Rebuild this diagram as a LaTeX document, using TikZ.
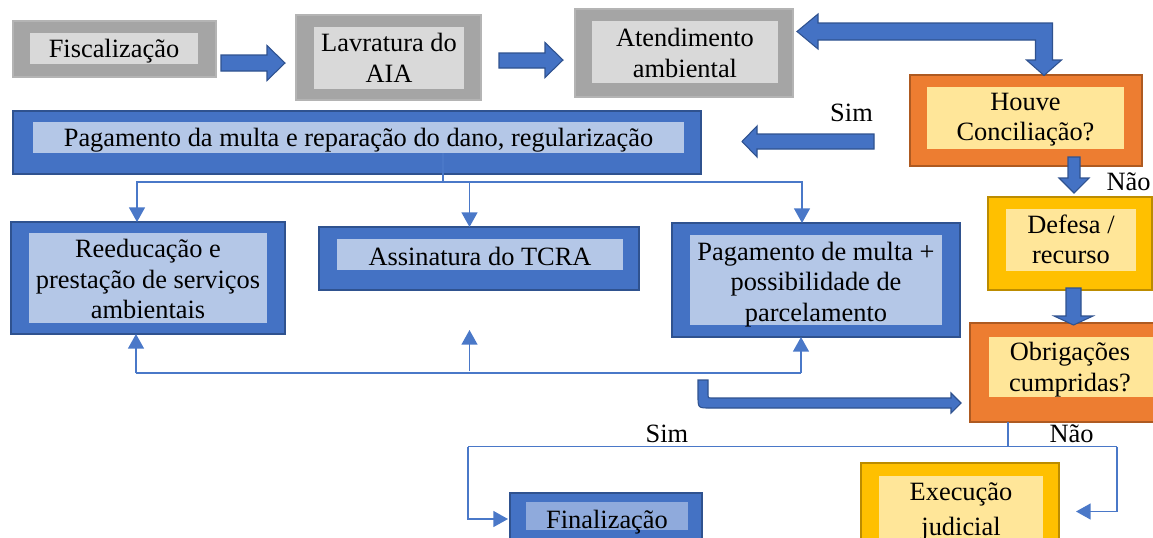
\documentclass[tikz,border=0pt]{standalone}
\usepackage{fontspec}
\setmainfont{Liberation Serif}
\newfontfamily\tnrfont{Liberation Serif}
\usetikzlibrary{fit,calc,arrows.meta}
\definecolor{grayO}{HTML}{A5A5A5}
\definecolor{grayB}{HTML}{B4B4B4}
\definecolor{grayI}{HTML}{D9D9D9}
\definecolor{blueO}{HTML}{4472C4}
\definecolor{blueB}{HTML}{2F528F}
\definecolor{blueI}{HTML}{B4C7E7}
\definecolor{blueF}{HTML}{8FAADC}
\definecolor{orgO}{HTML}{ED7D31}
\definecolor{orgB}{HTML}{AE5A21}
\definecolor{yelO}{HTML}{FFC000}
\definecolor{yelB}{HTML}{BC8C00}
\definecolor{yelI}{HTML}{FFE699}
\definecolor{conC}{HTML}{4A78C8}
\begin{document}
\begin{tikzpicture}[x=0.75pt,y=-0.75pt,
  gframe/.style={draw=grayB, fill=grayO, line width=1pt, inner sep=0pt, outer sep=0pt},
  bframe/.style={draw=blueB, fill=blueO, line width=1.1pt, inner sep=0pt, outer sep=0pt},
  oframe/.style={draw=orgB, fill=orgO, line width=1.1pt, inner sep=0pt, outer sep=0pt},
  yframe/.style={draw=yelB, fill=yelO, line width=1.1pt, inner sep=0pt, outer sep=0pt},
  pane/.style={draw=none, inner sep=0pt, outer sep=0pt},
  txt/.style={inner sep=0pt, align=center, font=\tnrfont\fontsize{19.8}{23}\selectfont},
  blk/.style={fill=blueO, draw=blueB, line width=0.8pt, line join=miter},
  conn/.style={draw=conC, line width=1.05pt},
  arr/.style={-{Triangle[length=11pt,width=12pt]}}
]
\useasboundingbox (0,0) rectangle (1153,537);
\path[clip] (0,0) rectangle (1153,537);

% boxes
\node[gframe, fit={(13,21) (216,77)}] (fisc) {};
\node[pane, fill=grayI, fit={(30,33) (198,64)}] (fiscI) {};
\node[txt] (fiscT) at (114,51.2) {\strut Fiscalização};

\node[gframe, fit={(296,15) (481,100)}] (lavr) {};
\node[pane, fill=grayI, fit={(314,27) (464,89)}] (lavrI) {};
\node[txt] (lavrT) at (389,60.9) {\strut Lavratura do\\AIA\strut};

\node[gframe, fit={(575,9) (793,97)}] (aten) {};
\node[pane, fill=grayI, fit={(592,21) (778,83)}] (atenI) {};
\node[txt] (atenT) at (685,55.9) {\strut Atendimento\\ambiental\strut};

\node[oframe, fit={(910,75) (1142,166)}] (houve) {};
\node[pane, fill=yelI, fit={(927,87) (1124,149)}] (houveI) {};
\node[txt] (houveT) at (1025.5,119.2) {\strut Houve\\Conciliação?\strut};

\node[bframe, fit={(13,111) (701,174)}] (pag) {};
\node[pane, fill=blueI, fit={(33,122) (684,153)}] (pagI) {};
\node[txt] (pagT) at (358.5,140.5) {\strut Pagamento da multa e reparação do dano, regularização};

\node[bframe, fit={(11,222) (285,334)}] (reed) {};
\node[pane, fill=blueI, fit={(29,233) (267,323)}] (reedI) {};
\node[txt] (reedT) at (148,281.9) {\strut Reeducação e\\prestação de serviços\\ambientais\strut};

\node[bframe, fit={(319,227) (639,290)}] (tcra) {};
\node[pane, fill=blueI, fit={(337,239) (622.7,270)}] (tcraI) {};
\node[txt] (tcraT) at (480,258.9) {\strut Assinatura do TCRA};

\node[bframe, fit={(672,223) (960,337)}] (pmul) {};
\node[pane, fill=blueI, fit={(690,235) (942,325)}] (pmulI) {};
\node[txt] (pmulT) at (816,284.6) {\strut Pagamento de multa +\\possibilidade de\\parcelamento\strut};

\node[yframe, fit={(988,197) (1152,290)}] (def) {};
\node[pane, fill=yelI, fit={(1006,209) (1136,271)}] (defI) {};
\node[txt] (defT) at (1071,242.5) {\strut Defesa /\\recurso\strut};

\node[oframe, fit={(970,323) (1175,422)}] (obr) {};
\node[pane, fill=yelI, fit={(989,337) (1160,397)}] (obrI) {};
\node[txt] (obrT) at (1070,369.9) {\strut Obrigações\\cumpridas?\strut};

\node[yframe, fit={(861,463) (1059,560)}] (exe) {};
\node[pane, fill=yelI, fit={(879,476) (1043,548)}] (exeI) {};
\node[txt, anchor=north] (exeT) at (961,478.5) {\strut Execução\\[3.5pt]judicial\strut};

\node[bframe, fit={(510,493) (702,545)}] (fin) {};
\node[pane, fill=blueF, fit={(526,502) (688,530)}] (finI) {};
\node[txt] (finT) at (607,521.9) {\strut Finalização};

% labels
\node[txt] (sim1) at (851.5,115.6) {\strut Sim};
\node[txt] (nao1) at (1128.5,183.9) {\strut Não};
\node[txt] (sim2) at (667,436.6) {\strut Sim};
\node[txt] (nao2) at (1071.5,436.6) {\strut Não};

% block arrows
\draw[blk] (221,55) -- (267,55) -- (267,45.5) -- (285,63) -- (267,80.5) -- (267,71) -- (221,71) -- cycle;
\draw[blk] (499,53) -- (545,53) -- (545,42.5) -- (563,60) -- (545,77.5) -- (545,68) -- (499,68) -- cycle;
\draw[blk] (797,31.5) -- (818,14) -- (818,23) -- (1052.5,23) -- (1052.5,60) -- (1061.5,60) -- (1044,75.5) -- (1026.5,60) -- (1035.5,60) -- (1035.5,40) -- (818,40) -- (818,49) -- cycle;
\draw[blk] (742,141.5) -- (757,126) -- (757,134) -- (874,134) -- (874,149) -- (757,149) -- (757,157) -- cycle;
\draw[blk] (1068,157) -- (1080,157) -- (1080,178) -- (1089,178) -- (1074,193) -- (1059,178) -- (1068,178) -- cycle;
\draw[blk] (1066,288) -- (1081,288) -- (1081,316) -- (1093,316) -- (1073.5,325) -- (1054,316) -- (1066,316) -- cycle;
\draw[blk] (698,380) -- (698,396) .. controls (698,408) .. (710,408) -- (951,408) -- (951,413) -- (961,403) -- (951,393) -- (951,398) -- (711,398) .. controls (708,398) .. (708,395) -- (708,380) -- cycle;

% thin connectors, top branching
\coordinate (stemA) at ($(pagI.south)+(84.5,0)$);
\coordinate (stemB) at ($(stemA)+(0,29)$);
\draw[conn] (stemA) -- (stemB);
\draw[conn,arr] (stemB) -| ($(reed.north)+(-11,0)$);
\draw[conn,arr] (stemB) -| ($(tcra.north)+(-9.5,0)$);
\draw[conn,arr] (stemB) -| ($(pmul.north)+(-14,0)$);

% return line
\coordinate (retL) at ($(reed.south)+(-12,39)$);
\coordinate (retR) at ($(pmul.south)+(-15,36)$);
\coordinate (midUp) at ($(tcra.south)+(-9.5,40)$);
\draw[conn] (retL) -- (retR);
\draw[conn,arr] (retL) -- (reed.south -| retL);
\draw[conn,arr] (retR) -- (pmul.south -| retR);
\draw[conn,arr] ($(midUp |- retL)+(0,-2)$) -- (midUp);

% bottom split
\coordinate (obA) at ($(obr.south west)+(38,0)$);
\coordinate (obB) at ($(obA)+(0,24.5)$);
\coordinate (splitL) at ($(fin.west |- obB)+(-42,0)$);
\coordinate (splitR) at ($(exe.east |- obB)+(58,0)$);
\draw[conn] (obA) -- (obB);
\draw[conn] (splitL) -- (splitR);
\draw[conn,arr] (splitL) |- ($(fin.west)+(-2,0)$);
\draw[conn,arr] (splitR) |- ($(exe.east)+(17,0)$);
\end{tikzpicture}
\end{document}
